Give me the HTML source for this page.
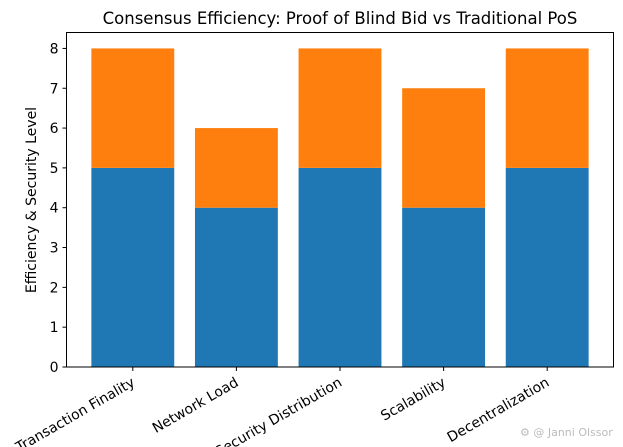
<!DOCTYPE html>
<html><head><meta charset="utf-8"><style>
html,body{margin:0;padding:0;background:#fff;width:623px;height:447px;overflow:hidden}
text{font-family:"DejaVu Sans","Liberation Sans",sans-serif}
</style></head><body>
<svg id="chart" width="623" height="447" xmlns="http://www.w3.org/2000/svg">
<text x="340" y="24" font-size="16.5" text-anchor="middle" fill="#000">Consensus Efficiency: Proof of Blind Bid vs Traditional PoS</text>
<text transform="translate(36,200) rotate(-90)" font-size="14" text-anchor="middle">Efficiency &amp; Security Level</text>
<g id="marks"></g>
<rect x="66.5" y="32.5" width="547" height="334.5" fill="none" stroke="#000" stroke-width="1"/>
<text x="520" y="436" font-size="11" fill="#bbb">⚙ @ Janni Olssor</text>
</svg>
<script>
const categories=["Transaction Finality","Network Load","Security Distribution","Scalability","Decentralization"];
const seriesBottom=[5,4,5,4,5];
const seriesTop=[3,2,3,3,3];
const yTicks=[0,1,2,3,4,5,6,7,8];
const L=66.5,R=613.5,T=32.5,B=367,yMax=8.4;
const n=categories.length;
const xmin=-0.64,xmax=n-1+0.64;
const xs=v=>L+(v-xmin)/(xmax-xmin)*(R-L);
const ys=v=>B-v/yMax*(B-T);
const bw=0.8*(xs(1)-xs(0));
const g=document.getElementById('marks');
const NS='http://www.w3.org/2000/svg';
function mk(t,a){const e=document.createElementNS(NS,t);for(const k in a)e.setAttribute(k,a[k]);g.appendChild(e);return e;}
categories.forEach((c,i)=>{
  const cx=xs(i);
  const b=mk('rect',{x:cx-bw/2,y:ys(seriesBottom[i]),width:bw,height:ys(0)-ys(seriesBottom[i]),fill:'#1f77b4'});
  
  
  const top=seriesBottom[i]+seriesTop[i];
  const t=mk('rect',{x:cx-bw/2,y:ys(top),width:bw,height:ys(seriesBottom[i])-ys(top),fill:'#ff7f0e'});
  
  
  const tk=mk('line',{x1:cx,x2:cx,y1:B,y2:B+4,stroke:'#000'});
  
  
  const lb=mk('text',{transform:`translate(${cx+3},${B+18}) rotate(-30)`,'font-size':14,'text-anchor':'end'});
  lb.textContent=c;
  
  
});
yTicks.forEach(v=>{
  const y=ys(v);
  const tk=mk('line',{x1:L-4,x2:L,y1:y,y2:y,stroke:'#000'});
  
  
  const lb=mk('text',{x:L-8,y:y+5,'font-size':14,'text-anchor':'end'});
  lb.textContent=v;
  
  
});
</script>
</body></html>
